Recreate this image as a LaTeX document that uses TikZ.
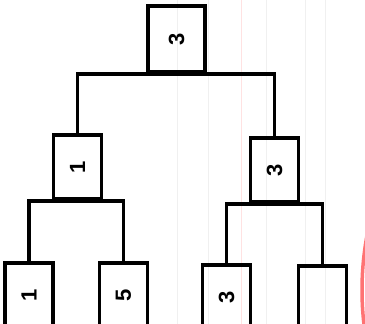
\documentclass[tikz,border=0pt]{standalone}
\usepackage{fontspec}
\setmainfont{Liberation Sans}
\usetikzlibrary{positioning}
\tikzset{
  lap/.style={draw,line width=3.6pt,minimum width=48pt,minimum height=64pt,
    inner sep=0pt,font=\fontsize{22}{22}\selectfont\bfseries},
  ag/.style={line width=3.6pt},
  csik/.style={line width=0.5pt,gray!12},
}
\newcommand{\fel}[1]{\rotatebox{90}{#1}}

\begin{document}
\begin{tikzpicture}[x=1pt,y=-1pt]
  \useasboundingbox (0,0) rectangle (365,324);
  % papir
  \foreach \x in {177,208,266,305,325} \draw[csik] (\x,0) -- (\x,324);
  \draw[line width=0.5pt,pink!45] (241,0) -- (241,324);
  % fa
  \node[lap,minimum width=57pt,minimum height=66pt] (g) at (176.5,39) {\fel{3}};
  \node[lap] (b) at (77.5,167) {\fel{1}};
  \node[lap] (j) at (274.5,170) {\fel{3}};
  \node[lap] (bb) at (29,295) {\fel{1}};
  \node[lap] (bj) at (123.5,295) {\fel{5}};
  \node[lap] (jb) at (226.5,297) {\fel{3}};
  \node[lap] (jj) at (322.5,298) {};
  \draw[ag] (b.north) |- (g.south) -| (j.north);
  \draw[ag] (bb.north) |- (b.south) -| (bj.north);
  \draw[ag] (jb.north) |- (j.south) -| (jj.north);
  % folt
  \draw[line width=3.5pt,red!55] (662,290) ++(160:300) arc (160:200:300);
\end{tikzpicture}
\end{document}
